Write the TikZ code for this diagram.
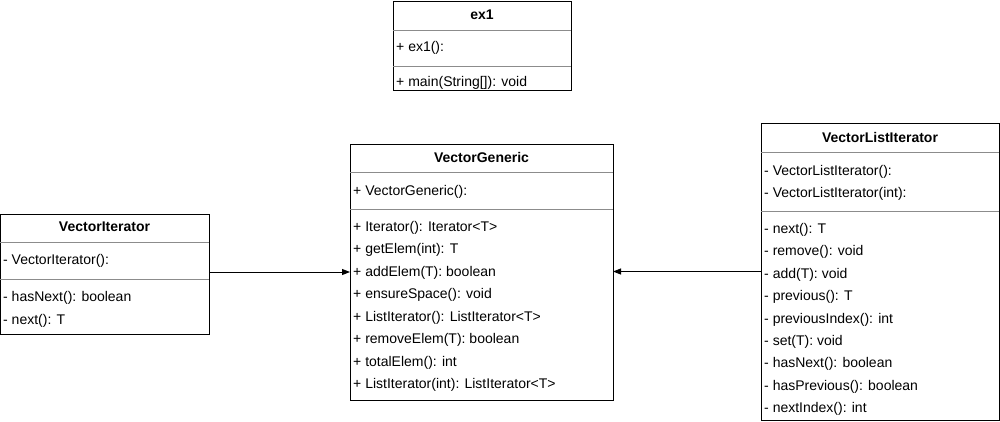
\documentclass[tikz,border=0pt]{standalone}
\usepackage{fontspec}
\setmainfont{Liberation Sans}
\usetikzlibrary{arrows.meta}
\begin{document}
\begin{tikzpicture}[x=1pt,y=-1pt,
  font=\fontsize{14}{16}\selectfont,
  classbox/.style={draw=black,line width=0.9pt,fill=white,anchor=north west,inner sep=0pt,outer sep=0pt},
  divider/.style={draw=black!45,line width=0.9pt},
  title/.style={font=\fontsize{14}{16}\selectfont\bfseries,inner sep=0pt},
  member/.style={anchor=west,inner sep=0pt},
  assoc/.style={draw=black,line width=0.9pt,-{Triangle[length=8pt,width=6pt]}}]
\useasboundingbox (0,0) rectangle (1000,421);

% ex1
\node[classbox,minimum width=178pt,minimum height=89pt] (ex) at (393,1) {};
\node[title] (exT) at (482,15) {ex1};
\draw[divider] (393,30) -- (571,30);
\node[member] (exC) at (396,48) {+ ex1():};
\draw[divider] (393,66) -- (571,66);
\node[member] (exM) at (396,83) {+ main(String[]): void};

% VectorIterator
\node[classbox,minimum width=209pt,minimum height=120pt] (vi) at (0,214) {};
\node[title] (viT) at (104.5,227) {VectorIterator};
\draw[divider] (0,242) -- (209,242);
\node[member] (viC) at (3,261) {- VectorIterator():};
\draw[divider] (0,279) -- (209,279);
\node[member] (viM1) at (3,298) {- hasNext(): boolean};
\node[member] (viM2) at (3,321) {- next(): T};

% VectorGeneric
\node[classbox,minimum width=263pt,minimum height=256pt] (vg) at (350,144) {};
\node[title] (vgT) at (481.5,157) {VectorGeneric};
\draw[divider] (350,172) -- (613,172);
\node[member] (vgC) at (353,192) {+ VectorGeneric():};
\draw[divider] (350,209) -- (613,209);
\foreach \t [count=\i] in {{+ Iterator(): Iterator<T>},{+ getElem(int): T},{+ addElem(T): boolean},{+ ensureSpace(): void},{+ ListIterator(): ListIterator<T>},{+ removeElem(T): boolean},{+ totalElem(): int},{+ ListIterator(int): ListIterator<T>}}
  \node[member] (vgM\i) at (353,{227.8+22.5*(\i-1)}) {\t};

% VectorListIterator
\node[classbox,minimum width=238pt,minimum height=297pt] (vli) at (761,123) {};
\node[title] (vliT) at (880,137) {VectorListIterator};
\draw[divider] (761,152) -- (999,152);
\node[member] (vliC1) at (764,172) {- VectorListIterator():};
\node[member] (vliC2) at (764,193.5) {- VectorListIterator(int):};
\draw[divider] (761,211) -- (999,211);
\foreach \t [count=\i] in {{- next(): T},{- remove(): void},{- add(T): void},{- previous(): T},{- previousIndex(): int},{- set(T): void},{- hasNext(): boolean},{- hasPrevious(): boolean},{- nextIndex(): int}}
  \node[member] (vliM\i) at (764,{229.8+22.4*(\i-1)}) {\t};

% associations
\coordinate (a1) at (vi.east |- 0,272);
\coordinate (b1) at (vg.west |- 0,272);
\coordinate (a2) at (vli.west |- 0,271.5);
\coordinate (b2) at (vg.east |- 0,271.5);
\draw[assoc] (a1) -- (b1);
\draw[assoc] (a2) -- (b2);
\end{tikzpicture}
\end{document}
